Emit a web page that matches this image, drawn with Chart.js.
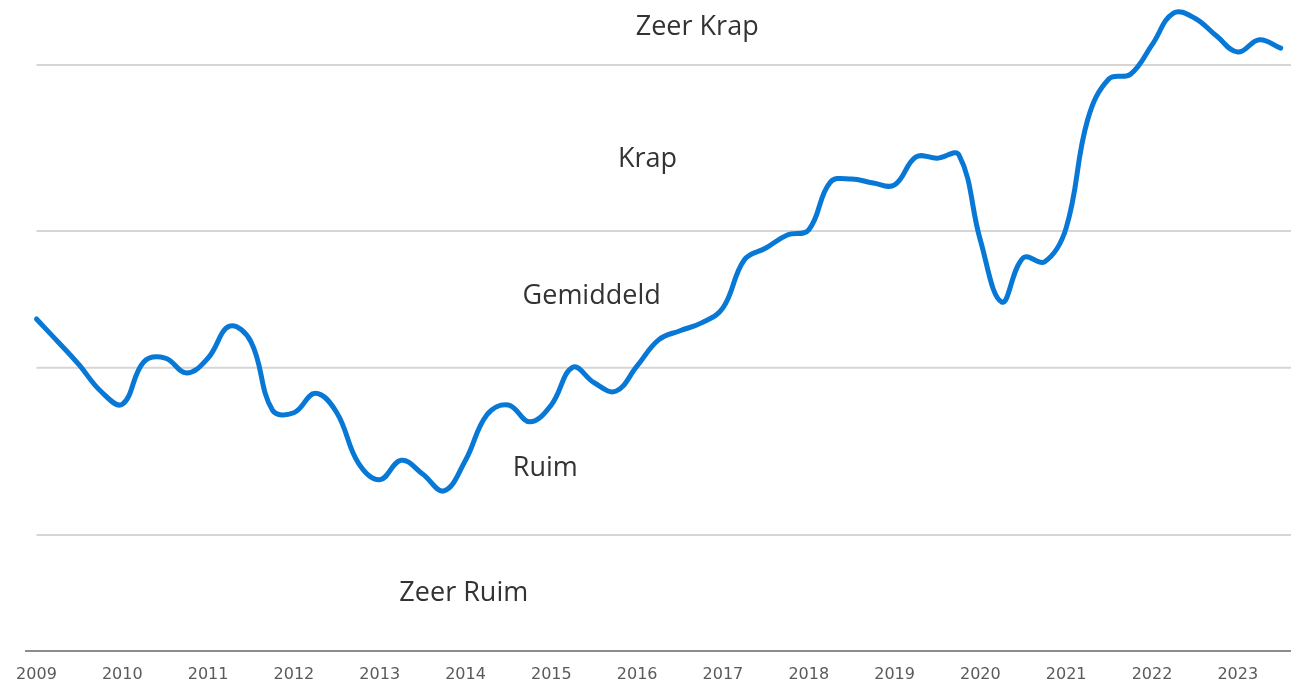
<!DOCTYPE html>
<html>
<head>
<meta charset="utf-8">
<script src="https://cdn.jsdelivr.net/npm/chart.js@4/dist/chart.umd.min.js"></script>
<style>
    html, body { margin: 0; padding: 0; background: #ffffff; }
    #wrap { width: 1291px; height: 683px; position: relative; }
</style>
</head>
<body>
<div id="wrap"><canvas id="chartMarkt"></canvas></div>
<script>
// kwartaalwaarden, 2009 K1 t/m 2023 K3
const quarters = [
    2009, 2009.25, 2009.5, 2009.75, 2010, 2010.25, 2010.5, 2010.75,
    2011, 2011.25, 2011.5, 2011.75, 2012, 2012.25, 2012.5, 2012.75,
    2013, 2013.25, 2013.5, 2013.75, 2014, 2014.25, 2014.5, 2014.75,
    2015, 2015.25, 2015.5, 2015.75, 2016, 2016.25, 2016.5, 2016.75,
    2017, 2017.25, 2017.5, 2017.75, 2018, 2018.25, 2018.5, 2018.75,
    2019, 2019.25, 2019.5, 2019.75, 2020, 2020.25, 2020.5, 2020.75,
    2021, 2021.25, 2021.5, 2021.75, 2022, 2022.25, 2022.5, 2022.75,
    2023, 2023.25, 2023.5
];
const indicator = [
    51.0, 47.5, 43.9, 39.9, 37.9, 44.4, 45.0, 42.7,
    45.0, 49.9, 47.5, 37.0, 36.6, 39.6, 36.6, 28.9,
    26.3, 29.3, 27.2, 24.6, 29.3, 36.3, 37.8, 35.2,
    37.8, 43.6, 41.2, 39.9, 43.8, 47.8, 49.2, 50.4,
    52.7, 60.1, 61.9, 63.9, 64.7, 72.0, 72.5, 71.9,
    71.6, 75.9, 75.7, 76.2, 63.1, 53.6, 60.4, 59.8,
    65.0, 81.6, 87.9, 88.6, 93.1, 98.0, 97.2, 94.5,
    92.0, 93.9, 92.6
];
const yearTicks = [2009, 2010, 2011, 2012, 2013, 2014, 2015, 2016, 2017, 2018, 2019, 2020, 2021, 2022, 2023];

// grenzen tussen de klassen
const bandBorders = [17.8, 43.5, 64.5, 90.0];
const bandNames = ['Zeer Krap', 'Krap', 'Gemiddeld', 'Ruim', 'Zeer Ruim'];
const bandNameX = [2016.70, 2016.12, 2015.47, 2014.93, 2013.98];
const bandNameY = [94.6, 74.3, 53.3, 26.9, 7.7];

const xMin = 2008.878;
const xMax = 2023.62;

const borderSets = bandBorders.map(b => ({
    data: [{ x: 2009, y: b }, { x: xMax, y: b }],
    borderColor: '#d6d6d6',
    borderWidth: 2,
    pointRadius: 0,
    tension: 0,
    order: 2
}));

const bandLabelPlugin = {
    id: 'bandLabels',
    afterDatasetsDraw(chart) {
        const ctx = chart.ctx;
        const xs = chart.scales.x;
        const ys = chart.scales.y;
        ctx.save();
        ctx.font = '27px "Open Sans"';
        ctx.fillStyle = '#333333';
        ctx.textAlign = 'center';
        ctx.textBaseline = 'alphabetic';
        bandNames.forEach((name, i) => {
            ctx.fillText(name, xs.getPixelForValue(bandNameX[i]), ys.getPixelForValue(bandNameY[i]));
        });
        ctx.restore();
    }
};

const ctx = document.getElementById('chartMarkt');
const marktChart = new Chart(ctx.getContext('2d'), {
    type: 'line',
    data: {
        datasets: [
            {
                label: 'Marktindicator',
                data: quarters.map((q, i) => ({ x: q, y: indicator[i] })),
                borderColor: '#0878d6',
                borderWidth: 5,
                pointRadius: 0,
                tension: 0.4,
                fill: false,
                borderCapStyle: 'round',
                order: 0
            },
            ...borderSets
        ]
    },
    options: {
        responsive: true,
        maintainAspectRatio: false,
        animation: false,
        layout: { padding: { left: 26, right: 0, top: 0, bottom: 0 } },
        plugins: {
            legend: { display: false },
            tooltip: { enabled: false }
        },
        scales: {
            x: {
                type: 'linear',
                min: xMin,
                max: xMax,
                afterBuildTicks: axis => { axis.ticks = yearTicks.map(v => ({ value: v })); },
                afterFit: axis => { axis.height = 32; },
                ticks: {
                    color: '#5a5a5a',
                    font: { family: 'DejaVu Sans', size: 16 },
                    padding: 14,
                    autoSkip: false,
                    maxRotation: 0,
                    callback: v => String(v)
                },
                grid: { display: false, drawTicks: false },
                border: { display: true, color: '#8c8c8c', width: 2 }
            },
            y: {
                display: false,
                min: 0,
                max: 100
            }
        }
    },
    plugins: [bandLabelPlugin]
});
</script>
</body>
</html>
